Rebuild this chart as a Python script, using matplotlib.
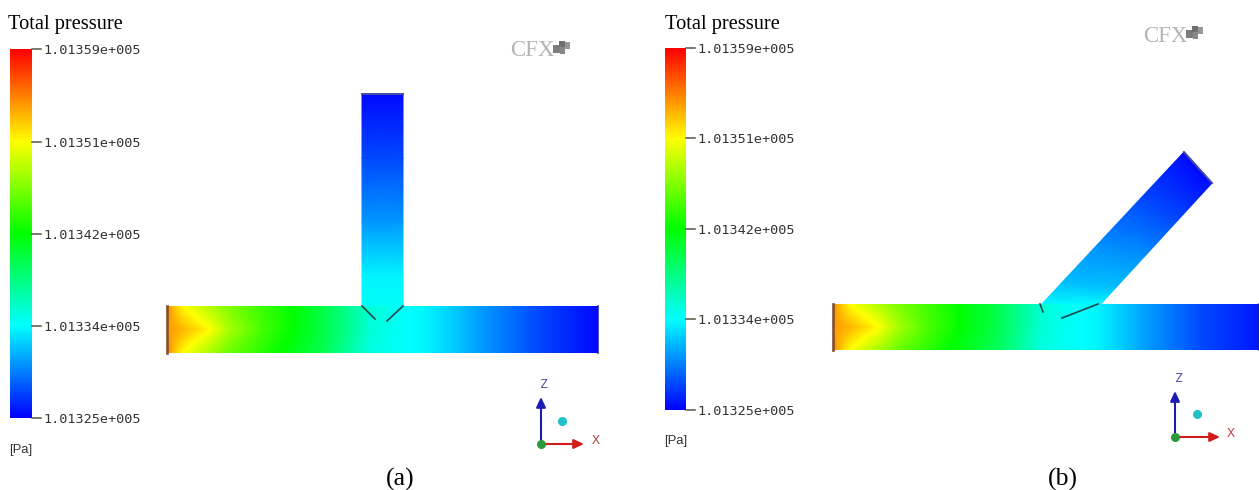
#!/usr/bin/env python
"""Total pressure contours on two T-pipe junctions, CFX style."""

from __future__ import annotations

import matplotlib

matplotlib.use("Agg")

import matplotlib.pyplot as plt
import numpy as np
from matplotlib.colors import LinearSegmentedColormap, Normalize
from matplotlib.patches import Rectangle

# colour bar
tick_labels = ["1.01359e+005", "1.01351e+005", "1.01342e+005", "1.01334e+005", "1.01325e+005"]
p_min = 101325.0
p_max = 101359.0

# pressure along the main pipe [Pa], rows are top edge, centre, bottom edge
main_a_stations = [0.0, 0.012, 0.037, 0.093, 0.146, 0.216, 0.292, 0.355, 0.413, 0.471, 0.541, 0.599, 0.668, 0.733, 0.865, 1.0]
main_a_top = [101354.6, 101352.9, 101350.5, 101348.1, 101346.1, 101344.0, 101342.0, 101340.0, 101337.6, 101334.9, 101333.8, 101333.2, 101331.8, 101330.1, 101327.4, 101325.3]
main_a_mid = [101353.6, 101353.6, 101352.9, 101350.8, 101347.4, 101344.4, 101342.0, 101340.0, 101337.6, 101334.9, 101333.8, 101333.2, 101331.8, 101330.1, 101327.4, 101325.3]
main_a_bot = [101354.6, 101352.9, 101350.5, 101347.8, 101345.4, 101343.4, 101341.3, 101339.6, 101337.2, 101334.5, 101333.8, 101333.2, 101331.8, 101330.1, 101327.4, 101325.3]

main_b_stations = [0.0, 0.012, 0.04, 0.1, 0.155, 0.225, 0.298, 0.37, 0.43, 0.49, 0.56, 0.62, 0.68, 0.745, 0.87, 1.0]
main_b_top = [101354.6, 101352.9, 101350.5, 101348.1, 101346.1, 101344.0, 101342.0, 101340.0, 101337.6, 101334.9, 101333.8, 101333.2, 101331.8, 101330.1, 101327.4, 101325.8]
main_b_mid = [101353.6, 101353.6, 101352.9, 101350.8, 101347.4, 101344.4, 101342.0, 101340.0, 101337.6, 101334.9, 101333.8, 101333.2, 101331.8, 101330.1, 101327.4, 101325.8]
main_b_bot = [101354.6, 101352.9, 101350.5, 101347.8, 101345.4, 101343.4, 101341.3, 101339.6, 101337.2, 101334.5, 101333.8, 101333.2, 101331.8, 101330.1, 101327.4, 101325.8]

# pressure along the branch [Pa], base to outlet
branch_a_stations = [0.0, 0.15, 0.4, 0.7, 1.0]
branch_a_values = [101333.8, 101333.2, 101330.1, 101327.4, 101325.3]

branch_b_stations = [0.0, 0.15, 0.4, 0.7, 1.0]
branch_b_values = [101333.5, 101331.5, 101329.8, 101327.4, 101325.3]

cmap = LinearSegmentedColormap.from_list(
    "cfx_rainbow", ["#0000ff", "#00ffff", "#00ff00", "#ffff00", "#ff0000"]
)
norm = Normalize(p_min, p_max)
SERIF = "Liberation Serif"


def draw_colorbar(ax, x0, x1, y0, y1, ticks_y, title_xy, pa_xy):
    levels = np.linspace(p_max, p_min, 256)
    ys = np.linspace(y0, y1, 257)
    ax.pcolormesh([x0, x1], ys, levels[:, None], cmap=cmap, norm=norm, zorder=2)
    for y, label in zip(ticks_y, tick_labels):
        ax.plot([x1, x1 + 9], [y, y], color="#555544", lw=1.1, zorder=3)
        ax.text(x1 + 11.5, y + 1.5, label, family="DejaVu Sans Mono", fontsize=9.7,
                color="#333333", va="center", ha="left")
    ax.text(*title_xy, "Total pressure", family=SERIF, fontsize=14.7, color="black",
            va="center", ha="left")
    ax.text(*pa_xy, "[Pa]", family="Liberation Sans", fontsize=9.4, color="#333333",
            va="center", ha="left")


def draw_main_pipe(ax, x0, x1, y0, y1, stations, top, mid, bot):
    # resample the three rows onto a pixel grid so the colours stay smooth
    u = np.linspace(0, 1, x1 - x0)
    rows = np.array([np.interp(u, stations, r) for r in (top, mid, bot)])
    v = np.linspace(0, 2, y1 - y0)
    field = np.array([[np.interp(t, [0, 1, 2], rows[:, i]) for i in range(len(u))] for t in v])
    ax.imshow(field, extent=(x0, x1, y1, y0), cmap=cmap, norm=norm, aspect="auto",
              interpolation="bilinear", zorder=3)
    ax.plot([x0 + 0.5, x0 + 0.5], [y0, y1], color="#80502f", lw=1.9, zorder=4)
    ax.plot([x1, x1], [y0, y1], color="#1a1a90", lw=1.1, zorder=4)


def draw_branch(ax, base_l, base_r, tip_l, tip_r, stations, values):
    s = np.array(stations)[:, None]
    left = np.array(base_l) + s * (np.array(tip_l) - np.array(base_l))
    right = np.array(base_r) + s * (np.array(tip_r) - np.array(base_r))
    xx = np.column_stack([left[:, 0], right[:, 0]])
    yy = np.column_stack([left[:, 1], right[:, 1]])
    cc = np.column_stack([values, values])
    ax.pcolormesh(xx, yy, cc, cmap=cmap, norm=norm, shading="gouraud", zorder=2)
    ax.plot([tip_l[0], tip_r[0]], [tip_l[1], tip_r[1]], color="#4a4aa0", lw=1.4, zorder=4)


def draw_triad(ax, ox, oy, z_top, x_end, dot_xy, z_label_xy, x_label_xy):
    ax.annotate("", xy=(ox, z_top), xytext=(ox, oy), zorder=5,
                arrowprops=dict(arrowstyle="-|>,head_width=0.28,head_length=0.6",
                                color="#1c1cb4", lw=1.5, shrinkA=0, shrinkB=0))
    ax.annotate("", xy=(x_end, oy), xytext=(ox, oy), zorder=5,
                arrowprops=dict(arrowstyle="-|>,head_width=0.28,head_length=0.6",
                                color="#d01c1c", lw=1.5, shrinkA=0, shrinkB=0))
    ax.plot([ox], [oy], "o", ms=5.5, color="#2a9a3a", zorder=6)
    ax.plot([dot_xy[0]], [dot_xy[1]], "o", ms=5.5, color="#20c0c8", zorder=6)
    ax.text(*z_label_xy, "Z", family="DejaVu Sans Mono", fontsize=9.5, color="#5555aa",
            ha="center", va="center")
    ax.text(*x_label_xy, "X", family="DejaVu Sans Mono", fontsize=9.5, color="#b84848",
            ha="center", va="center")


def draw_logo(ax, x, y):
    ax.text(x, y + 1, "CFX", family=SERIF, fontsize=16.5, color="#b4b4b4", ha="left", va="center")
    for dx, dy, w, h, c in [(43, -5, 7, 8, "#7c7c7c"), (50, -3, 5, 7, "#888888"),
                            (49, -9, 6, 6, "#707070"), (55, -8, 5, 7, "#989898")]:
        ax.add_patch(Rectangle((x + dx, y + dy), w, h, facecolor=c, edgecolor="none", zorder=4))


def main() -> None:
    fig = plt.figure(figsize=(12.59, 4.9), dpi=100)
    ax = fig.add_axes([0, 0, 1, 1])

    # panel (a)
    draw_colorbar(ax, 10, 32, 49, 418, [49, 142, 234, 326, 418], (8, 25), (9, 450))
    draw_branch(ax, (362, 308), (403, 308), (362, 94), (403, 94), branch_a_stations, branch_a_values)
    draw_main_pipe(ax, 167, 598, 306, 353, main_a_stations, main_a_top, main_a_mid, main_a_bot)
    ax.plot([362, 375], [306, 319], color="#204850", lw=1.2, zorder=5)
    ax.plot([387, 403], [321, 306], color="#204850", lw=1.2, zorder=5)
    draw_triad(ax, 541, 444, 397, 584, (562, 421), (544, 384), (596, 440))
    draw_logo(ax, 510, 50)
    ax.text(400, 479, "(a)", family=SERIF, fontsize=18.5, ha="center", va="center")

    # panel (b)
    draw_colorbar(ax, 665, 686, 48, 410, [48, 138, 229, 319, 410], (665, 24), (664, 441))
    draw_branch(ax, (1040, 306), (1099, 306), (1184, 152), (1212, 183), branch_b_stations, branch_b_values)
    draw_main_pipe(ax, 833, 1259, 304, 350, main_b_stations, main_b_top, main_b_mid, main_b_bot)
    ax.plot([1040, 1043], [304, 312], color="#204850", lw=1.2, zorder=5)
    ax.plot([1062, 1098], [318, 304], color="#204850", lw=1.2, zorder=5)
    draw_triad(ax, 1175, 437, 391, 1220, (1197, 414), (1179, 378), (1231, 433))
    draw_logo(ax, 1143, 35)
    ax.text(1063, 479, "(b)", family=SERIF, fontsize=18.5, ha="center", va="center")

    ax.set_xlim(0, 1259)
    ax.set_ylim(490, 0)
    ax.set_axis_off()
    fig.savefig("out.png", facecolor="white")
    plt.close(fig)


if __name__ == "__main__":
    main()
